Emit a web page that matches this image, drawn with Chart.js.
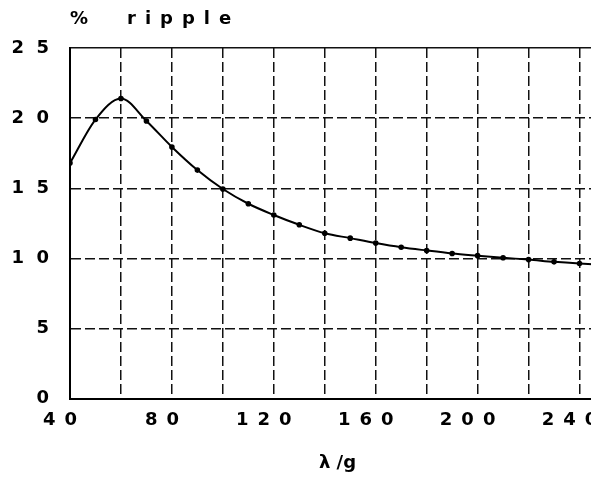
<!DOCTYPE html>
<html>
<head>
<meta charset="utf-8">
<script src="https://cdn.jsdelivr.net/npm/chart.js@4"></script>
<style>
  html, body { margin: 0; padding: 0; background: #fff; overflow: hidden; }
</style>
</head>
<body>
<canvas id="chart" width="640" height="482"></canvas>
<script>
// lambda/g values and % ripple
const lambdaG = [40, 50, 60, 70, 80, 90, 100, 110, 120, 130, 140, 150, 160, 170, 180, 190, 200, 210, 220, 230, 240, 250];
const ripple = [16.8, 19.9, 21.4, 19.8, 17.95, 16.3, 14.95, 13.9, 13.1, 12.4, 11.8, 11.45, 11.1, 10.8, 10.57, 10.36, 10.2, 10.05, 9.92, 9.76, 9.64, 9.55];
const xLabels = [40, 80, 120, 160, 200, 240];
const yLabels = [0, 5, 10, 15, 20, 25];

const spaced = (v, gap = '\u2002') => String(v).split('').join(gap);
const font = { family: '"DejaVu Sans", sans-serif', size: 18, weight: 'bold' };

Chart.defaults.font.family = font.family;
Chart.defaults.color = '#000';

const topTitle = {
  id: 'topTitle',
  afterDraw(chart) {
    const { ctx, chartArea } = chart;
    ctx.save();
    ctx.font = 'bold 18px "DejaVu Sans"';
    ctx.fillStyle = '#000';
    ctx.textBaseline = 'middle';
    ctx.fillText('%', chartArea.left, 19);
    ctx.fillText(spaced('ripple'), chartArea.left + 57, 19);
    ctx.restore();
  }
};

const dash = ctx => (ctx.tick && ctx.tick.value === 25) ? [] : [10, 4];

new Chart(document.getElementById('chart').getContext('2d'), {
  type: 'line',
  data: {
    datasets: [{
      data: lambdaG.map((x, i) => ({ x, y: ripple[i] })),
      borderColor: '#000',
      borderWidth: 2,
      pointRadius: 1.8,
      pointBackgroundColor: '#000',
      pointBorderColor: '#000',
      cubicInterpolationMode: 'monotone',
      fill: false
    }]
  },
  options: {
    responsive: false,
    animation: false,
    layout: { padding: { top: 48, right: 35, left: 0, bottom: 0 } },
    plugins: { legend: { display: false }, tooltip: { enabled: false } },
    scales: {
      x: {
        type: 'linear',
        min: 40,
        max: 250,
        ticks: {
          stepSize: 20,
          includeBounds: false,
          autoSkip: false,
          maxRotation: 0,
          padding: 11,
          labelOffset: -10,
          font,
          callback: v => xLabels.includes(v) ? spaced(v) : ''
        },
        grid: { color: '#111', lineWidth: 1.5, drawTicks: false },
        border: { display: true, color: '#000', width: 2, dash: [10, 4] },
        title: { display: true, text: 'λ /g', font, padding: { top: 10, bottom: 8 } }
      },
      y: {
        min: 0,
        max: 25,
        ticks: {
          stepSize: 5,
          padding: 21,
          font,
          callback: v => yLabels.includes(v) ? spaced(v, '\u2007') : ''
        },
        grid: { color: '#111', lineWidth: 1.5, drawTicks: false },
        border: { display: true, color: '#000', width: 2, dash },
        afterFit(scale) { scale.width = 70; }
      }
    }
  },
  plugins: [topTitle]
});
</script>
</body>
</html>
